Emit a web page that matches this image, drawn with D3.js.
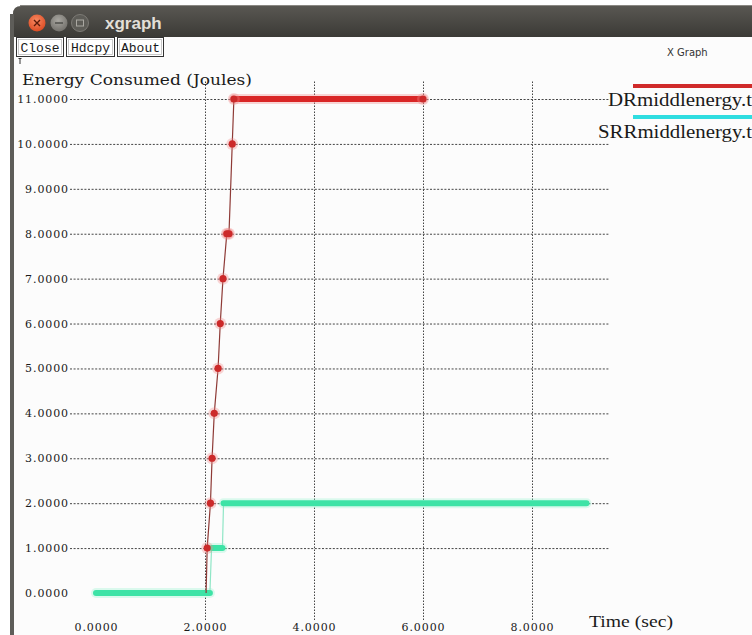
<!DOCTYPE html>
<html>
<head>
<meta charset="utf-8">
<script src="https://cdn.jsdelivr.net/npm/d3@7"></script>
<style>
  html, body { margin: 0; padding: 0; background: #ffffff; }
  svg { display: block; }
</style>
</head>
<body>
<svg id="chart" width="752" height="635"></svg>
<script>
// ---- data ----
const yTicks = [0, 1, 2, 3, 4, 5, 6, 7, 8, 9, 10, 11];
const xTicks = [0, 2, 4, 6, 8];
const xTitle = "Time (sec)";
const yTitle = "Energy Consumed (Joules)";
const seriesNames = ["DRmiddlenergy.t", "SRRmiddlenergy.t"];

// DR energy trace: [time, energy]
const drTime   = [2.02, 2.04, 2.10, 2.13, 2.17, 2.24, 2.28, 2.33, 2.40, 2.44, 2.50, 2.53, 6.00];
const drEnergy = [0,    1,    2,    3,    4,    5,    6,    7,    8,    8,    10,   11,   11];
// SRR energy trace: [time, energy]
const srrTime   = [0,    2.09, 2.12, 2.32, 2.34, 9.00];
const srrEnergy = [0,    0,    1,    1,    2,    2];

const buttons = ["Close", "Hdcpy", "About"];

// ---- setup ----
const svg = d3.select("#chart");
const fmt = d3.format(".4f");

const x = d3.scaleLinear().domain([0, 8]).range([96, 532]);
const y = d3.scaleLinear().domain([0, 11]).range([593, 99]);

const serif = "'DejaVu Serif', serif";
const times = "'Liberation Serif', 'Times New Roman', serif";

// ---- window frame ----
const defs = svg.append("defs");
const tg = defs.append("linearGradient").attr("id", "titleGrad")
  .attr("x1", 0).attr("y1", 0).attr("x2", 0).attr("y2", 1);
tg.append("stop").attr("offset", 0).attr("stop-color", "#5a5853");
tg.append("stop").attr("offset", 1).attr("stop-color", "#3b3a36");
const cg = defs.append("radialGradient").attr("id", "closeGrad")
  .attr("cx", 0.45).attr("cy", 0.35).attr("r", 0.7);
cg.append("stop").attr("offset", 0).attr("stop-color", "#f98a62");
cg.append("stop").attr("offset", 1).attr("stop-color", "#d9471f");
const gg = defs.append("radialGradient").attr("id", "greyGrad")
  .attr("cx", 0.45).attr("cy", 0.35).attr("r", 0.7);
gg.append("stop").attr("offset", 0).attr("stop-color", "#a9a7a1");
gg.append("stop").attr("offset", 1).attr("stop-color", "#6f6d68");

svg.append("rect").attr("x", 0).attr("y", 0).attr("width", 752).attr("height", 635).attr("fill", "#ffffff");
svg.append("rect").attr("x", 14).attr("y", 36).attr("width", 738).attr("height", 599).attr("fill", "#fcfcfc");

// title bar
svg.append("path")
  .attr("d", "M13,37 L13,14 Q13,6 21,6 L752,5 L752,37 Z")
  .attr("fill", "url(#titleGrad)");
svg.append("line").attr("x1", 20).attr("x2", 752).attr("y1", 5.5).attr("y2", 5.5)
  .attr("stroke", "#8a8883").attr("stroke-width", 1);

// left border
svg.append("rect").attr("x", 10).attr("y", 14).attr("width", 4).attr("height", 621).attr("fill", "#5e5d59");

// window buttons
svg.append("circle").attr("cx", 37).attr("cy", 23).attr("r", 8.5).attr("fill", "url(#closeGrad)");
svg.append("path").attr("d", "M34,20 L40,26 M40,20 L34,26")
  .attr("stroke", "#5a1a0a").attr("stroke-width", 1.4);
svg.append("circle").attr("cx", 59).attr("cy", 23).attr("r", 8.5).attr("fill", "url(#greyGrad)");
svg.append("line").attr("x1", 55).attr("x2", 63).attr("y1", 23).attr("y2", 23)
  .attr("stroke", "#4a4945").attr("stroke-width", 1.4);
svg.append("circle").attr("cx", 80).attr("cy", 23).attr("r", 8.5).attr("fill", "#5d5c57")
  .attr("stroke", "#7c7a75").attr("stroke-width", 1);
svg.append("rect").attr("x", 76.5).attr("y", 20).attr("width", 7).attr("height", 6)
  .attr("fill", "none").attr("stroke", "#aaa8a2").attr("stroke-width", 1);

svg.append("text").attr("x", 105).attr("y", 29)
  .attr("font-family", "'Liberation Sans', Arial, sans-serif").attr("font-weight", "bold")
  .attr("font-size", 17).attr("fill", "#e2dfd8").text("xgraph");

// command buttons
const btnX = [16, 66, 117];
const btnW = [47, 48, 46];
buttons.forEach((b, i) => {
  svg.append("rect").attr("x", btnX[i] + 0.5).attr("y", 37.5).attr("width", btnW[i]).attr("height", 19)
    .attr("fill", "#ffffff").attr("stroke", "#333").attr("stroke-width", 1);
  svg.append("rect").attr("x", btnX[i] + 2.5).attr("y", 39.5).attr("width", btnW[i] - 4).attr("height", 15)
    .attr("fill", "none").attr("stroke", "#bbb").attr("stroke-width", 0.8);
  svg.append("text").attr("x", btnX[i] + btnW[i] / 2 + 0.5).attr("y", 52)
    .attr("text-anchor", "middle").attr("font-family", "'Liberation Mono', monospace")
    .attr("font-size", 13).style("fill", "#1a1a1a").text(b);
});
svg.append("path").attr("d", "M20,58 L20,64 M18.5,58.5 L21.5,58.5")
  .attr("stroke", "#333").attr("stroke-width", 1);

svg.append("text").attr("x", 667).attr("y", 56)
  .attr("font-family", "'DejaVu Sans', sans-serif").attr("font-size", 10)
  .style("fill", "#333").text("X Graph");

// ---- axes / grid ----
const yAxis = d3.axisLeft(y).tickValues(yTicks).tickFormat(fmt).tickSize(-540).tickPadding(1);
const gy = svg.append("g").attr("transform", "translate(70,0)").call(yAxis);
gy.select(".domain").remove();
gy.selectAll(".tick line").attr("stroke", "#444").attr("stroke-width", 1).attr("stroke-dasharray", "2,1.6")
  .filter(d => d === 0).remove();
gy.selectAll(".tick text").attr("font-family", serif).attr("font-size", 11)
  .attr("letter-spacing", "0.9px").style("fill", "#1a1a1a");

const xAxis = d3.axisBottom(x).tickValues(xTicks).tickFormat(fmt).tickSize(-540).tickPadding(3);
const gx = svg.append("g").attr("transform", "translate(0,620)").call(xAxis);
gx.select(".domain").remove();
gx.selectAll(".tick line").attr("stroke", "#444").attr("stroke-width", 1).attr("stroke-dasharray", "1.5,1.5")
  .filter(d => d === 0).remove();
gx.selectAll(".tick text").attr("font-family", serif).attr("font-size", 11)
  .attr("letter-spacing", "0.9px").style("fill", "#1a1a1a");

// axis titles
svg.append("text").attr("x", 22).attr("y", 85)
  .attr("font-family", serif).attr("font-size", 15).style("fill", "#1a1a1a")
  .attr("textLength", 230).attr("lengthAdjust", "spacingAndGlyphs").text(yTitle);
svg.append("text").attr("x", 589).attr("y", 627)
  .attr("font-family", times).attr("font-size", 17).style("fill", "#1a1a1a")
  .attr("textLength", 84).attr("lengthAdjust", "spacingAndGlyphs").text(xTitle);

// ---- series ----
const series = [
  { name: seriesNames[0], t: drTime, v: drEnergy, color: "#d92626", glow: "#f08a8a", thin: "#8e3a36", markers: true, legendColor: "#d02a2a" },
  { name: seriesNames[1], t: srrTime, v: srrEnergy, color: "#3de3a6", glow: "#9af3d2", thin: "#8fe6c6", markers: false, legendColor: "#2fdde0" }
];

const line = d3.line().x(d => x(d[0])).y(d => y(d[1]));

// draw the SRR trace first so the DR ramp sits on top
[series[1], series[0]].forEach(s => {
  const pts = s.t.map((t, i) => [t, s.v[i]]);
  const g = svg.append("g");
  const flats = [];
  for (let i = 0; i < pts.length - 1; i++) {
    if (pts[i][1] === pts[i + 1][1]) flats.push([pts[i], pts[i + 1]]);
  }
  // soft halo under heavy segments
  g.selectAll("path.halo").data(flats).join("path").attr("class", "halo")
    .attr("d", line).attr("fill", "none").attr("stroke", s.glow)
    .attr("stroke-width", 10).attr("stroke-opacity", 0.35).attr("stroke-linecap", "round");
  // thin connecting trace
  g.append("path").attr("d", line(pts)).attr("fill", "none")
    .attr("stroke", s.thin).attr("stroke-width", 1.2);
  // heavy segments where the value holds steady
  g.selectAll("path.flat").data(flats).join("path").attr("class", "flat")
    .attr("d", line).attr("fill", "none").attr("stroke", s.color)
    .attr("stroke-width", 6).attr("stroke-linecap", "round");
  if (s.markers) {
    const mk = pts.slice(1);
    g.selectAll("circle.glow").data(mk).join("circle").attr("class", "glow")
      .attr("cx", d => x(d[0])).attr("cy", d => y(d[1])).attr("r", 6)
      .attr("fill", s.glow).attr("fill-opacity", 0.35);
    g.selectAll("circle.mk").data(mk).join("circle").attr("class", "mk")
      .attr("cx", d => x(d[0])).attr("cy", d => y(d[1])).attr("r", 3.6)
      .attr("fill", "#cc2a2a");
  }
});

// ---- legend ----
const legY = [86, 117];
const legTextX = [608, 598];
const legTextY = [106, 138];
const legLen = [144, 154];
series.forEach((s, i) => {
  svg.append("line").attr("x1", 633).attr("x2", 752).attr("y1", legY[i]).attr("y2", legY[i])
    .attr("stroke", s.legendColor).attr("stroke-width", 4);
  svg.append("text").attr("x", legTextX[i]).attr("y", legTextY[i])
    .attr("font-family", times).attr("font-size", 19).style("fill", "#1a1a1a")
    .attr("textLength", legLen[i]).attr("lengthAdjust", "spacingAndGlyphs").text(s.name);
});
</script>
</body>
</html>
